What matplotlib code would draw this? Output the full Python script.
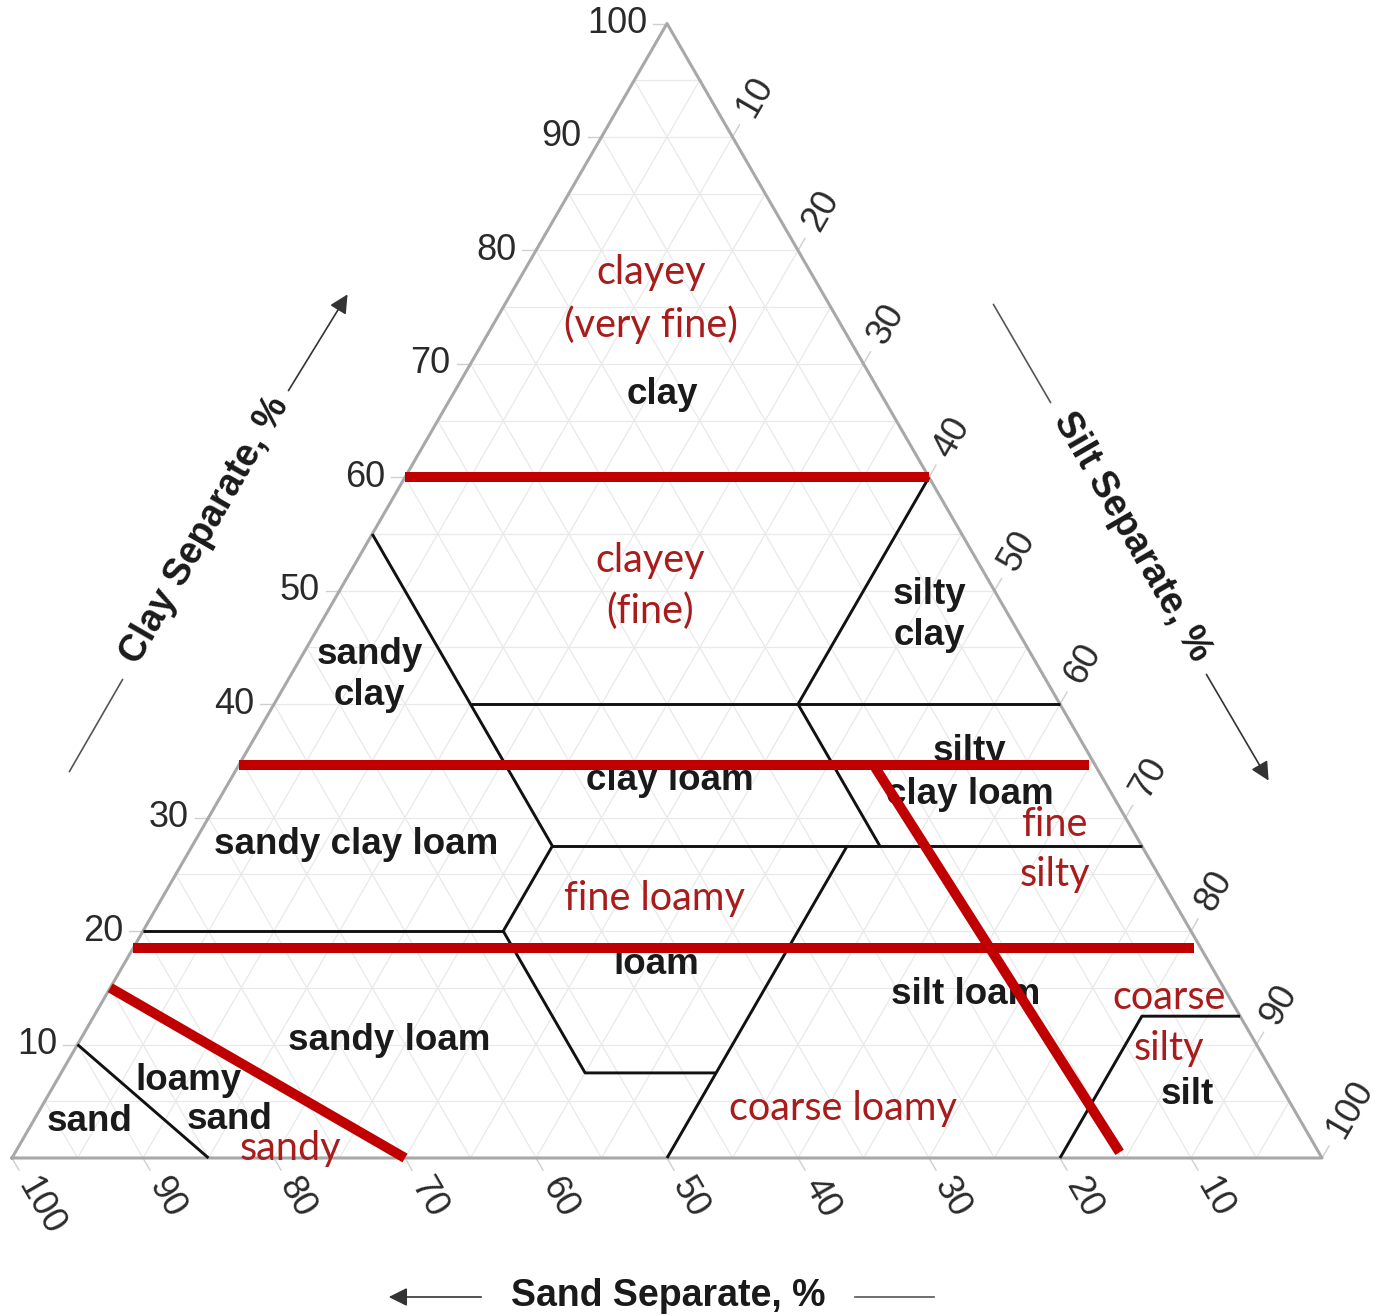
import numpy as np
import matplotlib
matplotlib.use("Agg")
import matplotlib.pyplot as plt

plt.rcParams['font.family'] = ['Liberation Sans', 'DejaVu Sans']

# texture class boundaries as (sand %, clay %) vertices
class_lines = [
    [(45, 55), (45, 27.5), (52.5, 20), (52.5, 7.5), (42.5, 7.5)],
    [(50, 0), (22.5, 27.5)],
    [(80, 20), (52.5, 20)],
    [(65, 35), (45, 35)],
    [(45, 27.5), (0, 27.5)],
    [(45, 40), (0, 40)],
    [(20, 27.5), (20, 40)],
    [(20, 40), (0, 60)],
    [(20, 0), (7.5, 12.5), (0, 12.5)],
    [(90, 10), (85, 0)],
]

# particle-size family boundaries (red)
family_lines = [
    [(40, 60), (0, 60)],
    [(65.4, 34.6), (0.5, 34.6)],
    [(81.5, 18.5), (0.5, 18.5)],
    [(85, 15), (70, 0)],
    [(16.9, 34.4), (15.2, 0.5)],
]

class_names = ["clay", "sandy\nclay", "silty\nclay", "clay loam", "silty",
               "clay loam", "sandy clay loam", "loam", "silt loam",
               "sandy loam", "loamy", "sand", "sand", "silt"]
class_pos = [(16.7, 67.3), (51.4, 42.6), (6.0, 47.9), (33.1, 33.3), (9.0, 35.8),
             (10.9, 32.0), (59.9, 27.6), (42.3, 17.1), (20.0, 14.4),
             (66.0, 10.4), (83.1, 6.8), (81.7, 3.4), (92.5, 3.2), (7.5, 5.6)]

family_names = ["clayey\n(very fine)", "clayey\n(fine)", "fine loamy",
                "fine\nsilty", "coarse\nsilty", "coarse loamy", "sandy"]
family_pos = [(13.4, 75.7), (26.1, 50.4), (39.5, 22.9),
              (6.8, 27.2), (5.7, 11.9), (34.4, 4.4), (78.3, 0.85)]

tick_values = [10, 20, 30, 40, 50, 60, 70, 80, 90, 100]

P = 1310.0  # pixels per unit side
H = np.sqrt(3) / 2


def tern(sand, clay):
    return 1 - sand / 100 - clay / 200, clay / 100 * H


def px(x, y):
    return (x - 12) / P, (1158 - y) / P


fig = plt.figure(figsize=(13.89, 13.16), dpi=100)
ax = fig.add_axes([0, 0, 1, 1])
ax.set_xlim(-12 / P, 1377 / P)
ax.set_ylim((1158 - 1316) / P, 1158 / P)
ax.axis('off')

# light grid every 5 %
for v in range(5, 100, 5):
    for a, b in [(tern(100 - v, v), tern(0, v)),
                 (tern(v, 0), tern(v, 100 - v)),
                 (tern(100 - v, 0), tern(0, 100 - v))]:
        ax.plot([a[0], b[0]], [a[1], b[1]], color='#e9e9e9', lw=0.9, zorder=1)

# outer triangle
tri = [tern(100, 0), tern(0, 0), tern(0, 100), tern(100, 0)]
ax.plot([p[0] for p in tri], [p[1] for p in tri], color='#a8a8a8', lw=2.2, zorder=3)

# tick marks and labels
tl = 14 / P
for v in tick_values:
    # clay, left edge
    x, y = tern(100 - v, v)
    ax.plot([x, x - tl], [y, y], color='#cfcfcf', lw=1, zorder=1)
    ax.text(x - 20 / P, y, str(v), ha='right', va='center', fontsize=26, color='#2a2a2a')
    # sand, bottom edge
    x, y = tern(v, 0)
    ax.plot([x, x + tl * 0.5], [y, y - tl * H], color='#cfcfcf', lw=1, zorder=1)
    ax.text(x + 26 / P * 0.5, y - 26 / P * H, str(v), ha='left', va='center',
            rotation=-60, rotation_mode='anchor', fontsize=26, color='#2a2a2a')
    # silt, right edge
    x, y = tern(0, 100 - v)
    ax.plot([x, x + tl * 0.5], [y, y + tl * H], color='#cfcfcf', lw=1, zorder=1)
    ax.text(x + 26 / P * 0.5, y + 26 / P * H, str(v), ha='left', va='center',
            rotation=60, rotation_mode='anchor', fontsize=26, color='#2a2a2a')

# class boundaries
for line in class_lines:
    pts = [tern(s, c) for s, c in line]
    ax.plot([p[0] for p in pts], [p[1] for p in pts], color='#111111', lw=2.1,
            solid_capstyle='butt', zorder=4)

for name, (s, c) in zip(class_names, class_pos):
    x, y = tern(s, c)
    ax.text(x, y, name, ha='center', va='center', fontsize=26.5, fontweight='bold',
            color='#1a1a1a', linespacing=1.22, zorder=5)

# family boundaries
for line in family_lines:
    pts = [tern(s, c) for s, c in line]
    ax.plot([p[0] for p in pts], [p[1] for p in pts], color='#c00000', lw=7.2,
            solid_capstyle='butt', zorder=6)

for name, (s, c) in zip(family_names, family_pos):
    x, y = tern(s, c)
    ax.text(x, y, name, ha='center', va='center', fontsize=28.5, color='#a81c1c',
            family=['Lato', 'DejaVu Sans'], linespacing=1.45, zorder=7)

# axis titles with arrows
arrow = dict(arrowstyle='-|>', color='#333333', lw=1.2, mutation_scale=28)
plain = dict(arrowstyle='-', color='#555555', lw=1.2)

ax.text(*px(205, 530), 'Clay Separate, %', rotation=60, ha='center', va='center',
        fontsize=27, fontweight='bold', color='#1a1a1a')
ax.annotate('', xy=px(349, 292), xytext=px(287, 393), arrowprops=arrow)
ax.annotate('', xy=px(68, 774), xytext=px(124, 677), arrowprops=plain)

ax.text(*px(1132, 537), 'Silt Separate, %', rotation=-60, ha='center', va='center',
        fontsize=27, fontweight='bold', color='#1a1a1a')
ax.annotate('', xy=px(1270, 783), xytext=px(1205, 672), arrowprops=arrow)
ax.annotate('', xy=px(992, 302), xytext=px(1052, 405), arrowprops=plain)

ax.text(*px(668, 1296), 'Sand Separate, %', ha='center', va='center',
        fontsize=27, fontweight='bold', color='#1a1a1a')
ax.annotate('', xy=px(386, 1297), xytext=px(484, 1297), arrowprops=arrow)
ax.annotate('', xy=px(937, 1297), xytext=px(852, 1297), arrowprops=plain)

fig.savefig('out.png', dpi=100, facecolor='white')
